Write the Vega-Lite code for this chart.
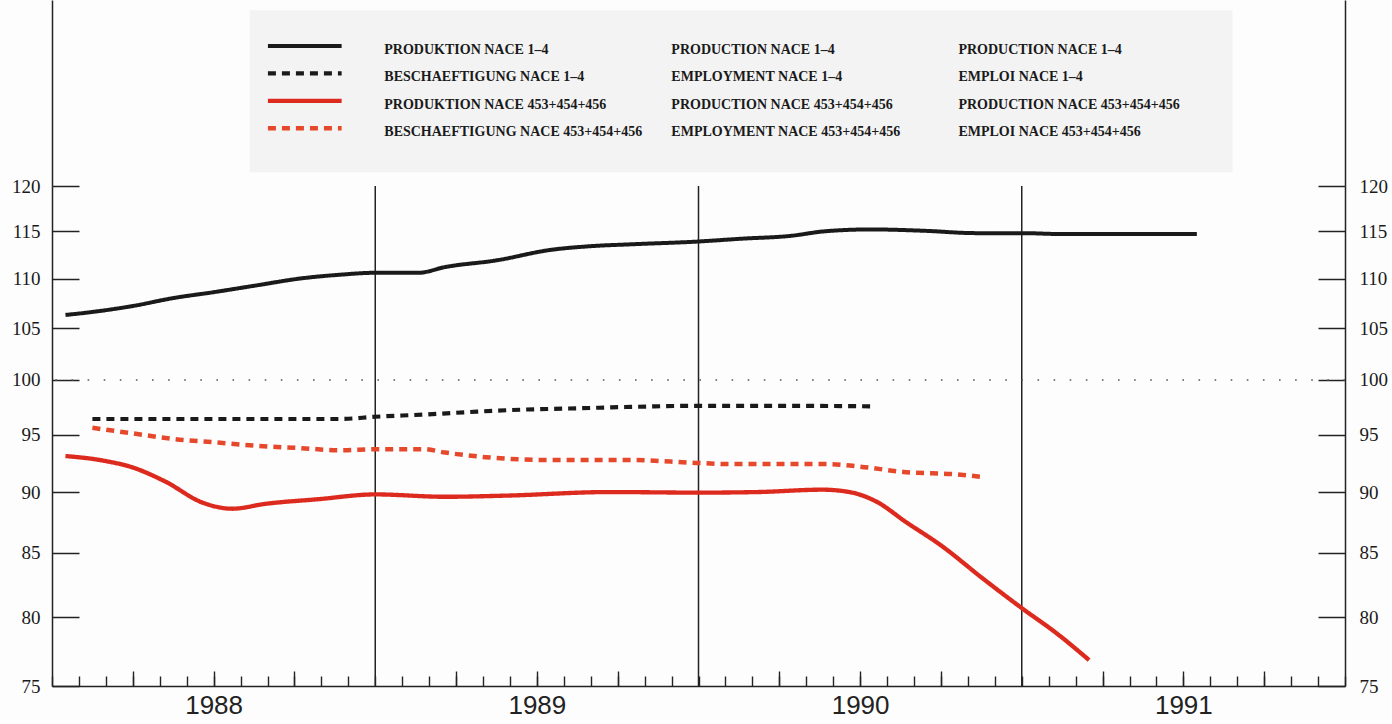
{
  "$schema": "https://vega.github.io/schema/vega-lite/v6.json",
  "background": "#fdfdfd",
  "padding": {"left": 11, "top": 0, "right": 2, "bottom": 2},
  "bounds": "flush",
  "spacing": 0,
  "config": {"view": {"stroke": null}},
  "datasets": {
    "series": [
      {"series": "PRODUKTION NACE 1–4", "m": 0.5, "v": 106.3},
      {"series": "PRODUKTION NACE 1–4", "m": 1.5, "v": 106.6},
      {"series": "PRODUKTION NACE 1–4", "m": 3, "v": 107.2},
      {"series": "PRODUKTION NACE 1–4", "m": 4.5, "v": 108.0},
      {"series": "PRODUKTION NACE 1–4", "m": 6, "v": 108.6},
      {"series": "PRODUKTION NACE 1–4", "m": 7.6, "v": 109.3},
      {"series": "PRODUKTION NACE 1–4", "m": 9.2, "v": 110.0},
      {"series": "PRODUKTION NACE 1–4", "m": 10.7, "v": 110.4},
      {"series": "PRODUKTION NACE 1–4", "m": 12, "v": 110.6},
      {"series": "PRODUKTION NACE 1–4", "m": 13.6, "v": 110.6},
      {"series": "PRODUKTION NACE 1–4", "m": 14.6, "v": 111.2},
      {"series": "PRODUKTION NACE 1–4", "m": 16.5, "v": 111.9},
      {"series": "PRODUKTION NACE 1–4", "m": 18.5, "v": 113.0},
      {"series": "PRODUKTION NACE 1–4", "m": 20, "v": 113.4},
      {"series": "PRODUKTION NACE 1–4", "m": 21.5, "v": 113.6},
      {"series": "PRODUKTION NACE 1–4", "m": 24, "v": 113.9},
      {"series": "PRODUKTION NACE 1–4", "m": 25.6, "v": 114.2},
      {"series": "PRODUKTION NACE 1–4", "m": 27.4, "v": 114.5},
      {"series": "PRODUKTION NACE 1–4", "m": 28.7, "v": 115.0},
      {"series": "PRODUKTION NACE 1–4", "m": 30.4, "v": 115.2},
      {"series": "PRODUKTION NACE 1–4", "m": 32.4, "v": 115.05},
      {"series": "PRODUKTION NACE 1–4", "m": 34.3, "v": 114.8},
      {"series": "PRODUKTION NACE 1–4", "m": 36, "v": 114.8},
      {"series": "PRODUKTION NACE 1–4", "m": 37.5, "v": 114.7},
      {"series": "PRODUKTION NACE 1–4", "m": 40, "v": 114.7},
      {"series": "PRODUKTION NACE 1–4", "m": 42.5, "v": 114.7},
      {"series": "BESCHAEFTIGUNG NACE 1–4", "m": 1.5, "v": 96.4},
      {"series": "BESCHAEFTIGUNG NACE 1–4", "m": 6, "v": 96.4},
      {"series": "BESCHAEFTIGUNG NACE 1–4", "m": 10.7, "v": 96.4},
      {"series": "BESCHAEFTIGUNG NACE 1–4", "m": 12, "v": 96.6},
      {"series": "BESCHAEFTIGUNG NACE 1–4", "m": 13.8, "v": 96.8},
      {"series": "BESCHAEFTIGUNG NACE 1–4", "m": 15.3, "v": 97.0},
      {"series": "BESCHAEFTIGUNG NACE 1–4", "m": 16.9, "v": 97.2},
      {"series": "BESCHAEFTIGUNG NACE 1–4", "m": 19.2, "v": 97.35},
      {"series": "BESCHAEFTIGUNG NACE 1–4", "m": 21.5, "v": 97.5},
      {"series": "BESCHAEFTIGUNG NACE 1–4", "m": 24, "v": 97.6},
      {"series": "BESCHAEFTIGUNG NACE 1–4", "m": 27, "v": 97.6},
      {"series": "BESCHAEFTIGUNG NACE 1–4", "m": 30.5, "v": 97.55},
      {"series": "PRODUKTION NACE 453+454+456", "m": 0.5, "v": 93.1},
      {"series": "PRODUKTION NACE 453+454+456", "m": 1.9, "v": 92.7},
      {"series": "PRODUKTION NACE 453+454+456", "m": 3, "v": 92.1},
      {"series": "PRODUKTION NACE 453+454+456", "m": 4.2, "v": 90.9},
      {"series": "PRODUKTION NACE 453+454+456", "m": 5.6, "v": 89.1},
      {"series": "PRODUKTION NACE 453+454+456", "m": 6.7, "v": 88.6},
      {"series": "PRODUKTION NACE 453+454+456", "m": 7.9, "v": 89.0},
      {"series": "PRODUKTION NACE 453+454+456", "m": 9.9, "v": 89.4},
      {"series": "PRODUKTION NACE 453+454+456", "m": 12, "v": 89.8},
      {"series": "PRODUKTION NACE 453+454+456", "m": 14.6, "v": 89.6},
      {"series": "PRODUKTION NACE 453+454+456", "m": 16.9, "v": 89.7},
      {"series": "PRODUKTION NACE 453+454+456", "m": 20.7, "v": 90.0},
      {"series": "PRODUKTION NACE 453+454+456", "m": 24, "v": 89.95},
      {"series": "PRODUKTION NACE 453+454+456", "m": 26.2, "v": 90.0},
      {"series": "PRODUKTION NACE 453+454+456", "m": 28.6, "v": 90.2},
      {"series": "PRODUKTION NACE 453+454+456", "m": 29.6, "v": 90.0},
      {"series": "PRODUKTION NACE 453+454+456", "m": 30.6, "v": 89.2},
      {"series": "PRODUKTION NACE 453+454+456", "m": 31.7, "v": 87.5},
      {"series": "PRODUKTION NACE 453+454+456", "m": 33, "v": 85.6},
      {"series": "PRODUKTION NACE 453+454+456", "m": 34.6, "v": 82.9},
      {"series": "PRODUKTION NACE 453+454+456", "m": 36, "v": 80.7},
      {"series": "PRODUKTION NACE 453+454+456", "m": 37.3, "v": 78.8},
      {"series": "PRODUKTION NACE 453+454+456", "m": 38.5, "v": 76.85},
      {"series": "BESCHAEFTIGUNG NACE 453+454+456", "m": 1.5, "v": 95.6},
      {"series": "BESCHAEFTIGUNG NACE 453+454+456", "m": 3, "v": 95.1},
      {"series": "BESCHAEFTIGUNG NACE 453+454+456", "m": 4.5, "v": 94.6},
      {"series": "BESCHAEFTIGUNG NACE 453+454+456", "m": 6.1, "v": 94.3},
      {"series": "BESCHAEFTIGUNG NACE 453+454+456", "m": 7.6, "v": 94.0},
      {"series": "BESCHAEFTIGUNG NACE 453+454+456", "m": 9.2, "v": 93.8},
      {"series": "BESCHAEFTIGUNG NACE 453+454+456", "m": 10.7, "v": 93.6},
      {"series": "BESCHAEFTIGUNG NACE 453+454+456", "m": 12.1, "v": 93.7},
      {"series": "BESCHAEFTIGUNG NACE 453+454+456", "m": 13.8, "v": 93.7},
      {"series": "BESCHAEFTIGUNG NACE 453+454+456", "m": 14.6, "v": 93.4},
      {"series": "BESCHAEFTIGUNG NACE 453+454+456", "m": 16.1, "v": 93.0},
      {"series": "BESCHAEFTIGUNG NACE 453+454+456", "m": 18.4, "v": 92.75},
      {"series": "BESCHAEFTIGUNG NACE 453+454+456", "m": 21.5, "v": 92.75},
      {"series": "BESCHAEFTIGUNG NACE 453+454+456", "m": 23.9, "v": 92.5},
      {"series": "BESCHAEFTIGUNG NACE 453+454+456", "m": 25.2, "v": 92.4},
      {"series": "BESCHAEFTIGUNG NACE 453+454+456", "m": 28.8, "v": 92.4},
      {"series": "BESCHAEFTIGUNG NACE 453+454+456", "m": 29.9, "v": 92.2},
      {"series": "BESCHAEFTIGUNG NACE 453+454+456", "m": 31.7, "v": 91.7},
      {"series": "BESCHAEFTIGUNG NACE 453+454+456", "m": 33.6, "v": 91.5},
      {"series": "BESCHAEFTIGUNG NACE 453+454+456", "m": 34.5, "v": 91.3}
    ],
    "leg": [
      {"key": "PRODUKTION NACE 1–4", "row": 1, "de": "PRODUKTION NACE 1–4", "en": "PRODUCTION NACE 1–4", "fr": "PRODUCTION NACE 1–4"},
      {"key": "BESCHAEFTIGUNG NACE 1–4", "row": 2, "de": "BESCHAEFTIGUNG NACE 1–4", "en": "EMPLOYMENT NACE 1–4", "fr": "EMPLOI NACE 1–4"},
      {"key": "PRODUKTION NACE 453+454+456", "row": 3, "de": "PRODUKTION NACE 453+454+456", "en": "PRODUCTION NACE 453+454+456", "fr": "PRODUCTION NACE 453+454+456"},
      {"key": "BESCHAEFTIGUNG NACE 453+454+456", "row": 4, "de": "BESCHAEFTIGUNG NACE 453+454+456", "en": "EMPLOYMENT NACE 453+454+456", "fr": "EMPLOI NACE 453+454+456"}
    ],
    "years": [{"m": 12}, {"m": 24}, {"m": 36}],
    "ref": [{"v": 100}]
  },
  "vconcat": [
    {
      "width": 1293,
      "height": 186,
      "data": {"name": "leg"},
      "layer": [
        {
          "data": {"values": [{"box": "legend"}]},
          "mark": {"type": "rect", "color": "#f3f3f3"},
          "encoding": {
            "x": {"datum": 15.3, "type": "quantitative", "scale": {"domain": [0, 100], "nice": false, "zero": false}, "axis": null},
            "x2": {"datum": 91.3},
            "y": {"datum": -0.3, "type": "quantitative", "scale": {"domain": [-0.67, 6.1], "reverse": true, "nice": false, "zero": false},
                  "axis": {"orient": "left", "domain": true, "domainColor": "#222", "domainWidth": 1.5, "ticks": false, "labels": false, "grid": false, "title": null}},
            "y2": {"datum": 5.6}
          }
        },
        {
          "mark": {"type": "rule"},
          "encoding": {
            "x": {"datum": 16.7, "type": "quantitative", "scale": {"domain": [0, 100], "nice": false, "zero": false}, "axis": null},
            "x2": {"datum": 22.4},
            "y": {"field": "row", "type": "quantitative", "scale": {"domain": [-0.67, 6.1], "reverse": true, "nice": false, "zero": false},
                  "axis": {"orient": "right", "domain": true, "domainColor": "#222", "domainWidth": 1.5, "ticks": false, "labels": false, "grid": false, "title": null}},
            "color": {"field": "key", "type": "nominal", "legend": null,
                      "scale": {"domain": ["PRODUKTION NACE 1–4", "BESCHAEFTIGUNG NACE 1–4", "PRODUKTION NACE 453+454+456", "BESCHAEFTIGUNG NACE 453+454+456"], "range": ["#1a1a1a", "#1a1a1a", "#dc2a1e", "#e6482b"]}},
            "strokeDash": {"field": "key", "type": "nominal", "legend": null,
                      "scale": {"domain": ["PRODUKTION NACE 1–4", "BESCHAEFTIGUNG NACE 1–4", "PRODUKTION NACE 453+454+456", "BESCHAEFTIGUNG NACE 453+454+456"], "range": [[1, 0], [8, 6], [1, 0], [8, 6]]}},
            "strokeWidth": {"field": "key", "type": "nominal", "legend": null,
                      "scale": {"domain": ["PRODUKTION NACE 1–4", "BESCHAEFTIGUNG NACE 1–4", "PRODUKTION NACE 453+454+456", "BESCHAEFTIGUNG NACE 453+454+456"], "range": [4, 4.5, 5, 5]}}
          }
        },
        {
          "mark": {"type": "text", "align": "left", "baseline": "middle", "dy": 4, "font": "Liberation Serif", "fontWeight": "bold", "fontSize": 14, "color": "#1a1a1a"},
          "encoding": {
            "x": {"datum": 25.7, "type": "quantitative", "scale": {"domain": [0, 100], "nice": false, "zero": false}, "axis": null},
            "y": {"field": "row", "type": "quantitative", "scale": {"domain": [-0.67, 6.1], "reverse": true, "nice": false, "zero": false}, "axis": null},
            "text": {"field": "de"}
          }
        },
        {
          "mark": {"type": "text", "align": "left", "baseline": "middle", "dy": 4, "font": "Liberation Serif", "fontWeight": "bold", "fontSize": 14, "color": "#1a1a1a"},
          "encoding": {
            "x": {"datum": 47.9, "type": "quantitative", "scale": {"domain": [0, 100], "nice": false, "zero": false}, "axis": null},
            "y": {"field": "row", "type": "quantitative", "scale": {"domain": [-0.67, 6.1], "reverse": true, "nice": false, "zero": false}, "axis": null},
            "text": {"field": "en"}
          }
        },
        {
          "mark": {"type": "text", "align": "left", "baseline": "middle", "dy": 4, "font": "Liberation Serif", "fontWeight": "bold", "fontSize": 14, "color": "#1a1a1a"},
          "encoding": {
            "x": {"datum": 70.1, "type": "quantitative", "scale": {"domain": [0, 100], "nice": false, "zero": false}, "axis": null},
            "y": {"field": "row", "type": "quantitative", "scale": {"domain": [-0.67, 6.1], "reverse": true, "nice": false, "zero": false}, "axis": null},
            "text": {"field": "fr"}
          }
        }
      ],
      "resolve": {"axis": {"y": "independent"}}
    },
    {
      "width": 1293,
      "height": 500,
      "layer": [
        {
          "data": {"name": "years"},
          "mark": {"type": "rule", "color": "#222", "strokeWidth": 1.5},
          "encoding": {
            "x": {"field": "m", "type": "quantitative", "scale": {"domain": [0, 48], "nice": false, "zero": false},
                  "axis": {"orient": "bottom", "values": [3, 6, 9, 15, 18, 21, 27, 30, 33, 39, 42, 45], "tickSize": -15, "tickColor": "#222", "tickWidth": 1.4, "labels": false, "domain": false, "grid": false, "title": null}}
          }
        },
        {
          "data": {"name": "ref"},
          "mark": {"type": "rule", "color": "#555", "strokeWidth": 1.6, "strokeDash": [1.6, 14.5]},
          "encoding": {
            "y": {"field": "v", "type": "quantitative", "scale": {"type": "log", "domain": [75, 120], "nice": false},
                  "axis": {"orient": "right", "values": [75, 80, 85, 90, 95, 100, 105, 110, 115, 120], "tickSize": -27, "tickColor": "#222", "tickWidth": 1.5, "labelPadding": 41, "labelFont": "Liberation Serif", "labelFontSize": 19, "labelColor": "#1a1a1a", "labelOverlap": false, "labelFlush": false, "domain": true, "domainColor": "#222", "domainWidth": 1.5, "grid": false, "title": null}}
          }
        },
        {
          "data": {"name": "series"},
          "mark": {"type": "line", "interpolate": "monotone"},
          "encoding": {
            "x": {"field": "m", "type": "quantitative", "scale": {"domain": [0, 48], "nice": false, "zero": false},
                  "axis": {"orient": "bottom", "values": [0, 1, 2, 3, 4, 5, 6, 7, 8, 9, 10, 11, 12, 13, 14, 15, 16, 17, 18, 19, 20, 21, 22, 23, 24, 25, 26, 27, 28, 29, 30, 31, 32, 33, 34, 35, 36, 37, 38, 39, 40, 41, 42, 43, 44, 45, 46, 47, 48],
                           "labelExpr": "datum.value % 12 == 6 ? '' + (1988 + floor(datum.value / 12)) : ''",
                           "tickSize": -10, "tickColor": "#222", "tickWidth": 1.4, "labelPadding": 16, "labelFont": "Liberation Sans", "labelFontSize": 26, "labelColor": "#222", "labelOverlap": false, "labelFlush": false, "labelBound": false,
                           "domain": true, "domainColor": "#222", "domainWidth": 1.5, "grid": false, "title": null}},
            "y": {"field": "v", "type": "quantitative", "scale": {"type": "log", "domain": [75, 120], "nice": false},
                  "axis": {"orient": "left", "values": [75, 80, 85, 90, 95, 100, 105, 110, 115, 120], "tickSize": -27, "tickColor": "#222", "tickWidth": 1.5, "labelPadding": 39, "labelFont": "Liberation Serif", "labelFontSize": 19, "labelColor": "#1a1a1a", "labelOverlap": false, "labelFlush": false, "domain": true, "domainColor": "#222", "domainWidth": 1.5, "grid": false, "title": null}},
            "color": {"field": "series", "type": "nominal", "legend": null,
                      "scale": {"domain": ["PRODUKTION NACE 1–4", "BESCHAEFTIGUNG NACE 1–4", "PRODUKTION NACE 453+454+456", "BESCHAEFTIGUNG NACE 453+454+456"], "range": ["#1a1a1a", "#1a1a1a", "#dc2a1e", "#e6482b"]}},
            "strokeDash": {"field": "series", "type": "nominal", "legend": null,
                      "scale": {"domain": ["PRODUKTION NACE 1–4", "BESCHAEFTIGUNG NACE 1–4", "PRODUKTION NACE 453+454+456", "BESCHAEFTIGUNG NACE 453+454+456"], "range": [[1, 0], [9, 7], [1, 0], [9, 7]]}},
            "strokeWidth": {"field": "series", "type": "nominal", "legend": null,
                      "scale": {"domain": ["PRODUKTION NACE 1–4", "BESCHAEFTIGUNG NACE 1–4", "PRODUKTION NACE 453+454+456", "BESCHAEFTIGUNG NACE 453+454+456"], "range": [4, 4.5, 5, 5]}}
          }
        }
      ],
      "resolve": {"axis": {"x": "independent", "y": "independent"}}
    }
  ]
}
